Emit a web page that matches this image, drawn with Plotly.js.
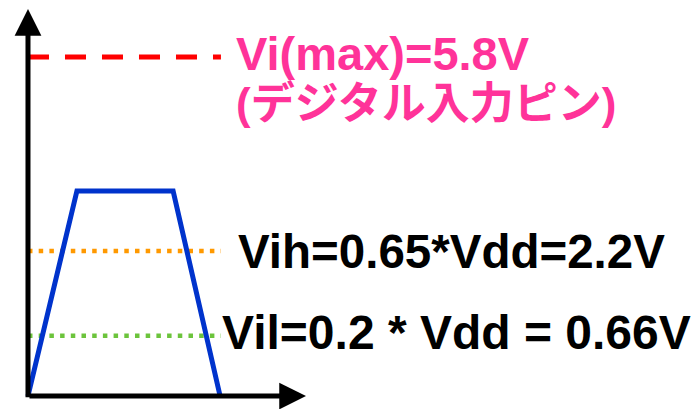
<!DOCTYPE html>
<html>
<head>
<meta charset="utf-8">
<script src="https://cdn.plot.ly/plotly-3.0.1.min.js"></script>
<style>html,body{margin:0;padding:0;background:#fff;}#chart{width:697px;height:409px;}</style>
</head>
<body>
<div id="chart"></div>
<script>
// schematic time / level units
const signalX = [0, 1.76, 5.22, 6.91];
const signalY = [0, 5.30, 5.30, 0];
const levelNames = ['Vi(max)', 'Vih', 'Vil'];
const levelY = [8.76, 3.75, 1.56];
const levelXStart = 0;
const levelXEnd = 6.94;
const labelTexts = ['Vi(max)=5.8V', '(デジタル入力ピン)', 'Vih=0.65*Vdd=2.2V', 'Vil=0.2 * Vdd = 0.66V'];
const labelX = [7.42, 7.42, 7.5, 6.92];
const labelY = [8.86, 7.55, 3.74, 1.65];
const axisTipX = 10;
const axisTipY = 10;

const levelColors = ['#ff0000', '#ff9900', '#6cc43c'];
const levelDash = ['21px,16px', '4.5px,6.2px', '4.5px,6.2px'];
const levelWidth = [5, 4.5, 4.5];

const traces = [];
levelNames.forEach((n, i) => {
  traces.push({
    x: [levelXStart, levelXEnd], y: [levelY[i], levelY[i]],
    mode: 'lines', name: n, hoverinfo: 'skip',
    line: {color: levelColors[i], width: levelWidth[i], dash: levelDash[i]}
  });
});
traces.push({
  x: signalX, y: signalY, mode: 'lines', name: 'signal', hoverinfo: 'skip',
  line: {color: '#0033cc', width: 5}
});

const font = '"Liberation Sans", Arial, "Noto Sans CJK JP", sans-serif';
const labelColors = ['#ff3399', '#ff3399', '#000000', '#000000'];
const labelSizes = [47, 44, 47.5, 48];

const annotations = labelTexts.map((t, i) => ({
  x: labelX[i], y: labelY[i], xref: 'x', yref: 'y',
  text: '<b>' + t + '</b>', showarrow: false,
  xanchor: 'left', yanchor: 'middle',
  font: {family: font, size: labelSizes[i], color: labelColors[i]}
}));
// axis arrows
annotations.push({
  x: axisTipX, y: 0, ax: 0, ay: 0, xref: 'x', yref: 'y', axref: 'x', ayref: 'y',
  text: '', showarrow: true, arrowhead: 2, arrowwidth: 5, arrowsize: 1.07, arrowcolor: '#000'
});
annotations.push({
  x: 0, y: axisTipY, ax: 0, ay: -0.07, xref: 'x', yref: 'y', axref: 'x', ayref: 'y',
  text: '', showarrow: true, arrowhead: 2, arrowwidth: 5, arrowsize: 1.07, arrowcolor: '#000'
});

const layout = {
  width: 697, height: 409,
  margin: {l: 0, r: 0, t: 0, b: 0},
  paper_bgcolor: '#fff', plot_bgcolor: '#fff',
  showlegend: false,
  xaxis: {range: [-1.007, 24.065], visible: false, fixedrange: true},
  yaxis: {range: [-0.336, 10.233], visible: false, fixedrange: true},
  annotations: annotations
};

Plotly.newPlot('chart', traces, layout, {staticPlot: true, displayModeBar: false});
</script>
</body>
</html>
